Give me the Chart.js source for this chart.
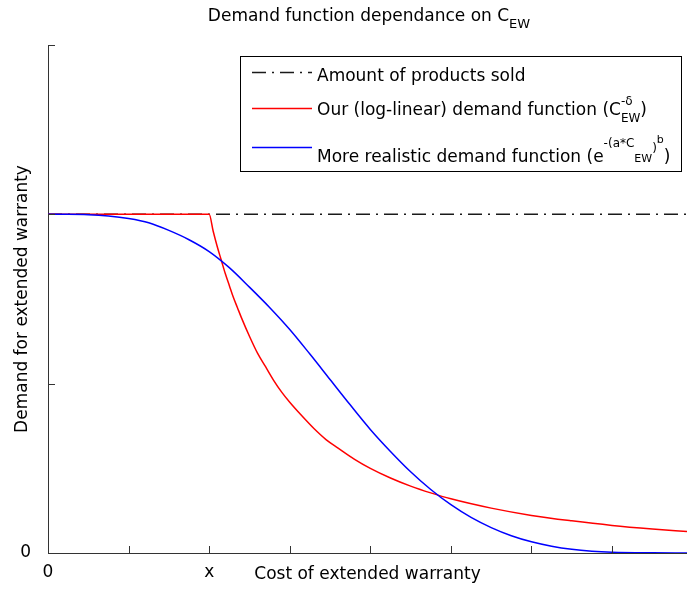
<!DOCTYPE html>
<html><head><meta charset="utf-8">
<script src="https://cdn.jsdelivr.net/npm/chart.js@4"></script>
<style>html,body{margin:0;padding:0;background:#fff}canvas{display:block}</style>
</head><body>
<canvas id="c" width="687" height="590"></canvas>
<script>
// ---- data ----
const titleMain = 'Demand function dependance on C';
const titleSub = 'EW';
const xAxisTitle = 'Cost of extended warranty';
const yAxisTitle = 'Demand for extended warranty';
const xTickLabels = {0: '0', 2: 'x'};
const yTickLabels = {0: '0'};
const seriesNames = [
  'Amount of products sold',
  'Our (log-linear) demand function (C^-δ_EW)',
  'More realistic demand function (e^-(a*C_EW)^b)'
];
const soldX = [0, 7.93];
const soldY = [2, 2];
const redX = [0, 2, 2.05, 2.1, 2.15, 2.2, 2.25, 2.3, 2.35, 2.4, 2.5, 2.6, 2.7, 2.8, 2.9, 3.0, 3.15, 3.3, 3.45, 3.6, 3.8, 4.0, 4.25, 4.5, 4.75, 5, 5.5, 6, 6.5, 7, 7.5, 7.93];
const redY = [2, 2, 1.90, 1.81, 1.73, 1.65, 1.58, 1.51, 1.45, 1.39, 1.28, 1.18, 1.10, 1.02, 0.95, 0.89, 0.81, 0.735, 0.67, 0.62, 0.555, 0.50, 0.443, 0.395, 0.355, 0.32, 0.265, 0.222, 0.19, 0.163, 0.142, 0.127];
const blueX = [0, 0.25, 0.5, 0.75, 1, 1.25, 1.5, 1.75, 2, 2.25, 2.5, 2.75, 3, 3.25, 3.5, 3.75, 4, 4.25, 4.5, 4.75, 5, 5.25, 5.5, 5.75, 6, 6.25, 6.5, 6.75, 7, 7.5, 7.93];
const blueY = [2, 2, 1.998, 1.99, 1.975, 1.95, 1.905, 1.85, 1.78, 1.685, 1.57, 1.45, 1.32, 1.175, 1.025, 0.875, 0.73, 0.60, 0.48, 0.375, 0.285, 0.21, 0.15, 0.102, 0.066, 0.04, 0.022, 0.011, 0.005, 0.001, 0];

// rich legend labels (sub/superscripts)
const legendRich = [
  [{t: 'Amount of products sold', s: 17}],
  [{t: 'Our (log-linear) demand function (C', s: 17}, {t: '-δ', s: 12, dy: -10, stack: true}, {t: 'EW', s: 12, dy: 7}, {t: ')', s: 17}],
  [{t: 'More realistic demand function (e', s: 17}, {t: '-(a*C', s: 12, dy: -15}, {t: 'EW', s: 11, dy: 0}, {t: ')', s: 12, dy: -10}, {t: 'b', s: 11, dy: -19}, {t: ')', s: 17}]
];

const FONT = '"DejaVu Sans", sans-serif';
const AXIS_COLOR = '#333';

function pts(xs, ys) { return xs.map((x, i) => ({x: x, y: ys[i]})); }

function drawRich(ctx, x, y, segs) {
  let cx = x, pending = 0;
  ctx.textBaseline = 'alphabetic';
  ctx.textAlign = 'left';
  for (const s of segs) {
    ctx.font = s.s + 'px ' + FONT;
    ctx.fillText(s.t, cx, y + (s.dy || 0));
    const w = ctx.measureText(s.t).width;
    if (s.stack) { pending = w; }
    else { cx += Math.max(w, pending); pending = 0; }
  }
  return cx;
}

const decorPlugin = {
  id: 'decor',
  afterDatasetsDraw(chart) {
    const ctx = chart.ctx, xs = chart.scales.x, ys = chart.scales.y;
    const area = chart.chartArea;
    ctx.save();
    ctx.strokeStyle = AXIS_COLOR;
    ctx.lineWidth = 1;
    ctx.beginPath();
    xs.ticks.forEach(t => {
      const px = Math.round(xs.getPixelForValue(t.value)) + 0.5;
      ctx.moveTo(px, area.bottom);
      ctx.lineTo(px, area.bottom - 7);
    });
    ys.ticks.forEach(t => {
      const py = Math.round(ys.getPixelForValue(t.value)) + 0.5;
      ctx.moveTo(area.left, py);
      ctx.lineTo(area.left + 7, py);
    });
    ctx.stroke();
    ctx.restore();
  },
  afterDraw(chart) {
    const ctx = chart.ctx;
    ctx.save();
    // title
    ctx.fillStyle = '#000';
    ctx.font = '17px ' + FONT;
    const wMain = ctx.measureText(titleMain).width;
    ctx.font = '13px ' + FONT;
    const wSub = ctx.measureText(titleSub).width;
    const tx = 369 - (wMain + wSub) / 2;
    drawRich(ctx, tx, 21, [{t: titleMain, s: 17}, {t: titleSub, s: 13, dy: 7}]);

    // legend box
    const L = 240.5, T = 56.5, R = 681.5, B = 171.5;
    ctx.fillStyle = '#fff';
    ctx.fillRect(L, T, R - L, B - T);
    ctx.strokeStyle = '#000';
    ctx.lineWidth = 1;
    ctx.strokeRect(L, T, R - L, B - T);
    const lineYs = [72, 108, 147];
    const textYs = [81, 115, 162];
    const dsOrder = [2, 1, 0]; // legend entry -> dataset index
    dsOrder.forEach((di, i) => {
      const ds = chart.data.datasets[di];
      ctx.save();
      ctx.strokeStyle = ds.borderColor;
      ctx.lineWidth = ds.borderWidth;
      ctx.setLineDash(ds.borderDash || []);
      ctx.beginPath();
      ctx.moveTo(252, lineYs[i] + 0.5);
      ctx.lineTo(312, lineYs[i] + 0.5);
      ctx.stroke();
      ctx.restore();
      ctx.fillStyle = '#000';
      drawRich(ctx, 317, textYs[i], legendRich[i]);
    });
    ctx.restore();
  }
};

new Chart(document.getElementById('c'), {
  type: 'scatter',
  data: {
    datasets: [
      {label: seriesNames[2], data: pts(blueX, blueY), showLine: true, borderColor: '#0000ff', borderWidth: 1.5, pointRadius: 0, cubicInterpolationMode: 'monotone', order: 0},
      {label: seriesNames[1], data: pts(redX, redY), showLine: true, borderColor: '#ff0000', borderWidth: 1.5, pointRadius: 0, cubicInterpolationMode: 'monotone', order: 1},
      {label: seriesNames[0], data: pts(soldX, soldY), showLine: true, borderColor: '#1a1a1a', borderWidth: 1.5, borderDash: [14, 6, 2, 6], pointRadius: 0, order: 2}
    ]
  },
  options: {
    responsive: false,
    animation: false,
    devicePixelRatio: 1,
    layout: {padding: {top: 45, right: 0, bottom: 0, left: 0}},
    plugins: {legend: {display: false}, title: {display: false}, tooltip: {enabled: false}},
    scales: {
      x: {
        type: 'linear', min: 0, max: 7.93,
        afterFit: s => { s.height = 37; },
        grid: {display: false, drawTicks: false},
        border: {display: true, color: AXIS_COLOR, width: 1},
        ticks: {
          stepSize: 1, includeBounds: false, autoSkip: false, maxRotation: 0, padding: 9,
          color: '#000', font: {family: FONT, size: 17},
          callback: v => (xTickLabels[v] !== undefined ? xTickLabels[v] : '')
        },
        title: {display: true, text: xAxisTitle, color: '#000', font: {family: FONT, size: 17}, padding: {top: 0, bottom: 5}}
      },
      y: {
        type: 'linear', min: 0, max: 3,
        afterFit: s => { s.width = 48; },
        grid: {display: false, drawTicks: false},
        border: {display: true, color: AXIS_COLOR, width: 1},
        ticks: {
          stepSize: 1, autoSkip: false, padding: 17,
          color: '#000', font: {family: FONT, size: 17},
          callback: v => (yTickLabels[v] !== undefined ? yTickLabels[v] : '')
        },
        title: {display: true, text: yAxisTitle, color: '#000', font: {family: FONT, size: 17}, padding: {top: 12, bottom: 0}}
      }
    }
  },
  plugins: [decorPlugin]
});
</script>
</body></html>
